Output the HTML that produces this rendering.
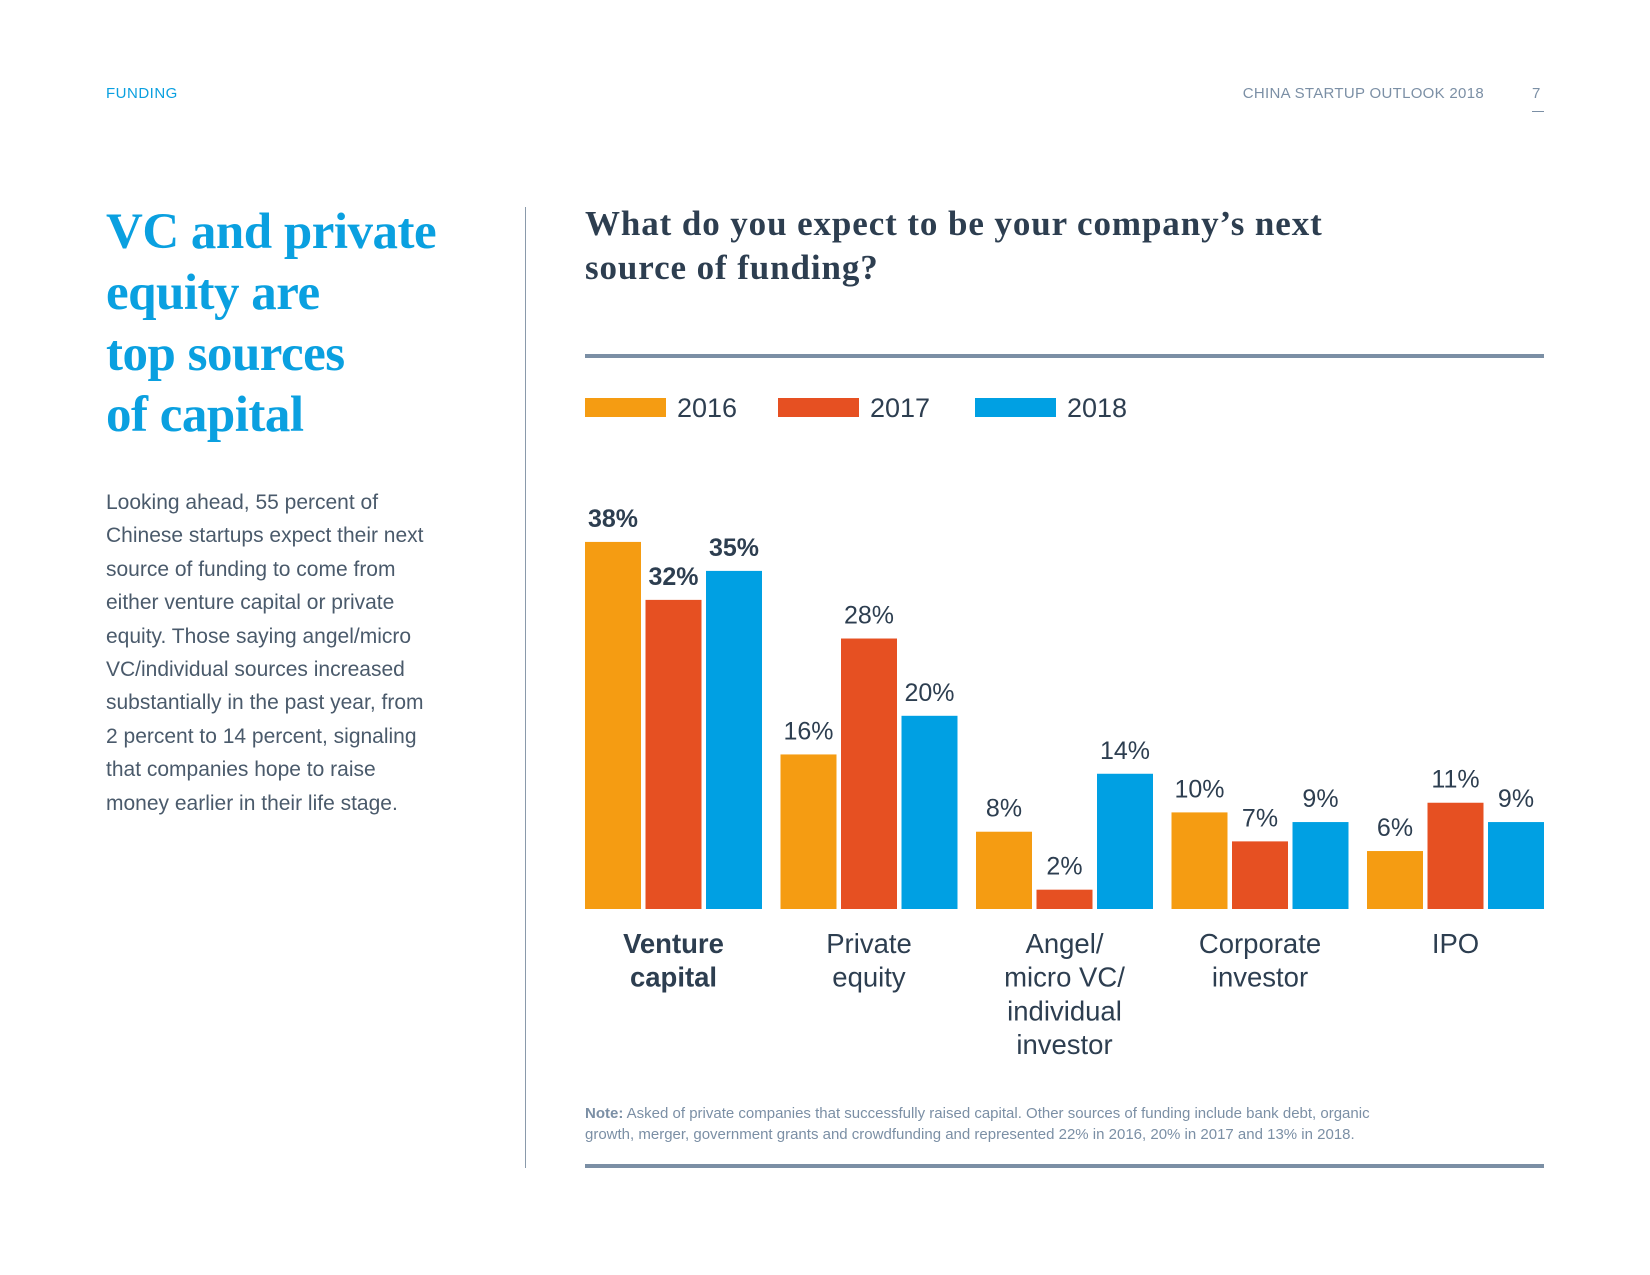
<!DOCTYPE html>
<html>
<head>
<meta charset="utf-8">
<style>
  html,body{margin:0;padding:0;background:#fff;}
  body{width:1650px;height:1275px;position:relative;overflow:hidden;font-family:"Liberation Sans Narrow","Liberation Sans",sans-serif;}
  .abs{position:absolute;}
  #hdr-left{left:106px;top:85px;font-size:15px;color:#0aa0e0;letter-spacing:0.5px;}
  #hdr-right{left:1180px;width:304px;text-align:right;top:85px;font-size:15px;color:#7b8fa5;letter-spacing:0.3px;}
  #hdr-page{left:1532px;top:85px;font-size:15px;color:#7b8fa5;}
  #hdr-page-line{left:1532px;top:111px;width:12px;height:1px;background:#7b8fa5;}
  #headline{left:106px;top:202px;font-family:"Liberation Serif",serif;font-weight:bold;font-size:51px;line-height:61px;color:#0aa0e0;letter-spacing:-0.5px;}
  #body-text{left:106px;top:486px;width:400px;font-size:21px;line-height:33.4px;color:#4a5a6b;white-space:nowrap;}
  #divider{left:525px;top:207px;width:1px;height:961px;background:#8a9aab;}
  #chart-title{left:585px;top:202px;font-family:"Liberation Serif",serif;font-weight:bold;font-size:35px;line-height:44px;color:#2d3e50;letter-spacing:0.9px;}
  #note{left:585px;top:1103px;width:1000px;font-size:15px;line-height:21px;color:#7b8fa5;white-space:nowrap;}
</style>
</head>
<body>
<div id="hdr-left" class="abs">FUNDING</div>
<div id="hdr-right" class="abs">CHINA STARTUP OUTLOOK 2018</div>
<div id="hdr-page" class="abs">7</div>
<div id="hdr-page-line" class="abs"></div>

<div id="headline" class="abs">VC and private<br>equity are<br>top sources<br>of capital</div>
<div id="body-text" class="abs">Looking ahead, 55 percent of<br>Chinese startups expect their next<br>source of funding to come from<br>either venture capital or private<br>equity. Those saying angel/micro<br>VC/individual sources increased<br>substantially in the past year, from<br>2 percent to 14 percent, signaling<br>that companies hope to raise<br>money earlier in their life stage.</div>
<div id="divider" class="abs"></div>

<div id="chart-title" class="abs">What do you expect to be your company’s next<br>source of funding?</div>

<svg id="chart" class="abs" style="left:0;top:0" width="1650" height="1275"></svg>

<div id="note" class="abs"><b>Note:</b> Asked of private companies that successfully raised capital. Other sources of funding include bank debt, organic<br>growth, merger, government grants and crowdfunding and represented 22% in 2016, 20% in 2017 and 13% in 2018.</div>

<script>
const categories = [["Venture","capital"],["Private","equity"],["Angel/","micro VC/","individual","investor"],["Corporate","investor"],["IPO"]];
const values2016 = [38,16,8,10,6];
const values2017 = [32,28,2,7,11];
const values2018 = [35,20,14,9,9];
const seriesNames = ["2016","2017","2018"];

const NS = "http://www.w3.org/2000/svg";
const svg = document.getElementById('chart');
const colors = ["#f59c12","#e65022","#00a0e3"];
const baseY = 909, pxPerPct = 9.66;
const x0 = 585, groupPitch = 195.5, barW = 56, barGap = 4.5;
function yScale(v){ return baseY - v*pxPerPct; }
function xBar(g,s){ return x0 + g*groupPitch + s*(barW+barGap); }
function mk(tag, attrs){ const e=document.createElementNS(NS,tag); for(const k in attrs) e.setAttribute(k,attrs[k]); svg.appendChild(e); return e; }

const r1 = mk('rect',{x:585,y:354,width:959,height:4,fill:'#7b8fa5'});


const r2 = mk('rect',{x:585,y:1164,width:959,height:4,fill:'#7b8fa5'});



const legX = [585,778,975];
seriesNames.forEach((n,i)=>{
  const sw = mk('rect',{x:legX[i],y:398,width:81,height:19,fill:colors[i]});
  
  
  const t = mk('text',{x:legX[i]+92,y:417,'font-size':27,fill:'#2d3e50','font-family':'"Liberation Sans Narrow","Liberation Sans",sans-serif'});
  t.textContent = n;
  
  
});

const series = [values2016, values2017, values2018];
categories.forEach((cat,g)=>{
  series.forEach((vals,s)=>{
    const v = vals[g];
    const x = xBar(g,s), y = yScale(v);
    const b = mk('rect',{x:x,y:y,width:barW,height:baseY-y,fill:colors[s]});
    
    
    const t = mk('text',{x:x+barW/2,y:y-15,'text-anchor':'middle','font-size':25,fill:'#2d3e50','font-weight':g===0?'bold':'normal','font-family':'"Liberation Sans Narrow","Liberation Sans",sans-serif'});
    t.textContent = v+'%';
    
    
  });
  const cx = xBar(g,0) + (3*barW+2*barGap)/2;
  cat.forEach((line,li)=>{
    const t = mk('text',{x:cx,y:953+li*33.7,'text-anchor':'middle','font-size':27.5,fill:'#2d3e50','font-weight':g===0?'bold':'normal','font-family':'"Liberation Sans Narrow","Liberation Sans",sans-serif'});
    t.textContent = line;
    
    
  });
});
</script>
</body>
</html>
